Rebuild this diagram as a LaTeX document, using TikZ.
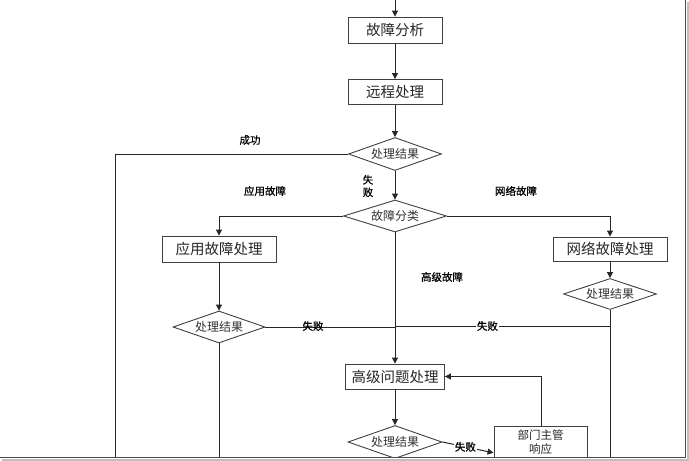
\documentclass[tikz,border=0pt]{standalone}
\usepackage{fontspec}
\newfontfamily\cjk{Noto Sans CJK SC}
\newfontfamily\cjklab[FakeBold=0.8]{Noto Sans CJK SC}
\usetikzlibrary{shapes.geometric,arrows.meta}
\tikzset{
  box/.style={draw=black!75, line width=0.9pt, rectangle, inner sep=0pt, font=\cjk\fontsize{14.5}{16}\selectfont, text=black!85},
  dec/.style={draw=black!75, line width=0.9pt, diamond, aspect=2.8, inner sep=0pt, font=\cjk\fontsize{12}{14}\selectfont, text=black!80},
  conn/.style={draw=black!85, line width=1pt},
  arr/.style={conn, -{Triangle[length=6pt,width=6pt]}},
  lab/.style={font=\cjklab\fontsize{10.5}{12}\selectfont, text=black, inner sep=1pt},
}
\begin{document}
\begin{tikzpicture}[x=1pt,y=-1pt]
\useasboundingbox (0,0) rectangle (689,461);
\begin{scope}
\clip (0,0) rectangle (685,457);
% nodes
\node[box, minimum width=94, minimum height=26] (fa) at (395,30) {故障分析};
\node[box, minimum width=94, minimum height=25] (yc) at (395,92) {远程处理};
\node[dec, minimum width=93, minimum height=33] (d1) at (395,154) {处理结果};
\node[dec, minimum width=103, minimum height=32] (d2) at (395,216) {故障分类};
\node[box, minimum width=114, minimum height=26] (app) at (219,249) {应用故障处理};
\node[dec, minimum width=92, minimum height=32] (d3) at (219,327) {处理结果};
\node[box, minimum width=114, minimum height=24] (net) at (610,249) {网络故障处理};
\node[dec, minimum width=93, minimum height=31] (d4) at (610,294) {处理结果};
\node[box, minimum width=99, minimum height=25] (adv) at (395,376.5) {高级问题处理};
\node[dec, minimum width=94, minimum height=33] (d5) at (395,442) {处理结果};
\node[box, anchor=north, minimum width=93, minimum height=40, inner ysep=3.5pt, align=center,
      font=\cjk\fontsize{11.5}{14}\selectfont] (mgr) at (540.5,426) {部门主管\\响应\\[8pt]};
% coordinates
\coordinate (top) at (395,0);
\coordinate (sL) at (115,461);
\coordinate (aL) at (219,461);
\coordinate (nL) at (610,461);
\coordinate (j1) at (395,327);
\coordinate (j2) at (610,326);
\coordinate (j2e) at (395,326);
\coordinate (mu) at (541,376.5);
% connectors
\draw[arr] (top) -- (fa.north);
\draw[arr] (fa) -- (yc);
\draw[arr] (yc) -- (d1);
\draw[arr] (d1) -- (d2);
\draw[conn] (d1.west) -| (sL);
\draw[arr] (d2.west) -| (app.north);
\draw[arr] (d2.east) -| (net.north);
\draw[arr] (d2.south) -- (adv.north);
\draw[arr] (app) -- (d3);
\draw[conn] (d3.south) -- (aL);
\draw[conn] (d3.east) -- (j1);
\draw[arr] (net) -- (d4);
\draw[conn] (d4.south) -- (nL);
\draw[conn] (j2) -- node[lab, fill=white, pos=0.57] {失败} (j2e);
\draw[arr] (adv) -- (d5);
\draw[arr] (d5.east) -- node[lab, fill=white, pos=0.45] {失败} (mgr.west);
\draw[arr] (mgr.north -| mu) -- (mu) -- (adv.east);
% labels
\node[lab] (l1) at (250,140) {成功};
\node[lab, align=center, font=\cjklab\fontsize{10.5}{12.5}\selectfont] (l2) at (368,186) {失\\败};
\node[lab] (l3) at (265,191) {应用故障};
\node[lab] (l4) at (516,191) {网络故障};
\node[lab] (l5) at (442,277) {高级故障};
\node[lab] (l6) at (313,326) {失败};
\end{scope}
% screenshot frame
\fill[black!25] (686.5,1.5) rectangle (689,461);
\fill[black!25] (1.5,458.5) rectangle (689,461);
\draw[black!70, line width=1.3pt] (685.5,0) -- (685.5,457.5) -- (0,457.5);
\end{tikzpicture}
\end{document}
